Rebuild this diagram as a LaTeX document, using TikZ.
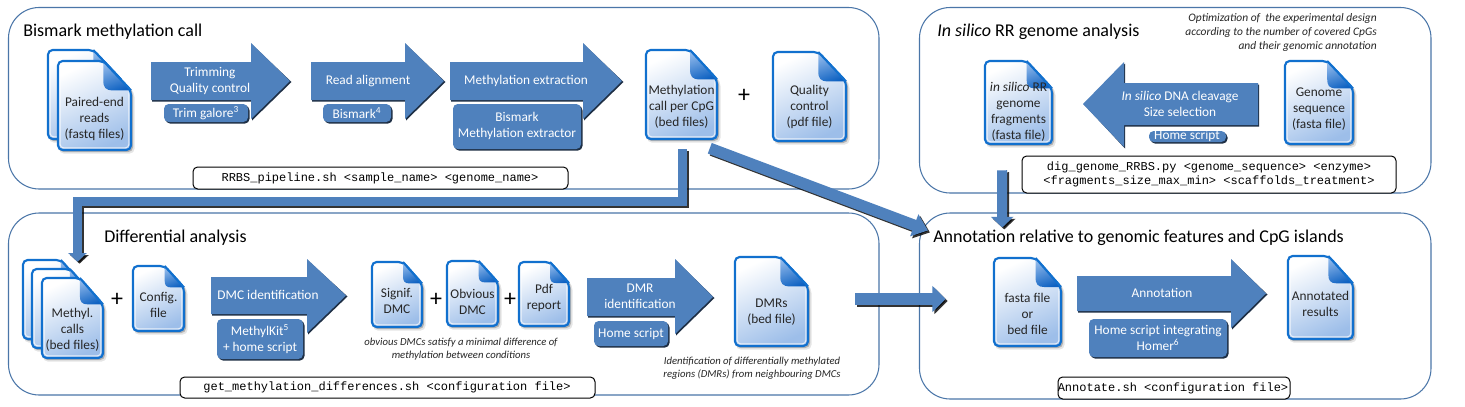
\documentclass[tikz,border=0pt]{standalone}
\usepackage{fontspec}
\setmainfont{Carlito}
\setmonofont{Liberation Mono}
\usetikzlibrary{arrows.meta}
\definecolor{barrow}{HTML}{4F81BD}
\definecolor{panelline}{HTML}{4A76A8}
\definecolor{docline}{HTML}{1170CE}
\definecolor{docend}{HTML}{9DBEE9}
\definecolor{foldtop}{HTML}{8FB8EA}
\definecolor{foldend}{HTML}{0F62C2}
\definecolor{shadowc}{HTML}{1E2F45}
\tikzset{
  x=0.75pt,y=-0.75pt,
  panelbox/.style={draw=panelline,line width=0.8pt,fill=white,rounded corners=23pt,inner sep=0pt},
  codebox/.style={draw=black,line width=0.75pt,fill=white,rounded corners=3.5pt,inner sep=0pt,align=center,font=\ttfamily\fontsize{9}{10.6}\selectfont},
  tagbox/.style={fill=barrow,rounded corners=3.5pt,inner sep=0pt,align=center,text=white,font=\fontsize{10}{12}\selectfont},
  whitelabel/.style={text=white,align=center,inner sep=0pt,font=\fontsize{10}{12}\selectfont},
  doclabel/.style={text=black!85,align=center,inner sep=0pt,font=\fontsize{10}{12}\selectfont},
  title/.style={anchor=west,inner sep=0pt,font=\fontsize{13.5}{16}\selectfont},
  note/.style={inner sep=0pt,font=\itshape\fontsize{8}{9.8}\selectfont,text=black!85},
  plus/.style={inner sep=0pt,font=\fontsize{18}{18}\selectfont},
  conn/.style={draw=barrow,line join=miter},
  connshadow/.style={draw=black,opacity=0.8,line join=miter,transform canvas={xshift=1.5pt,yshift=-1.5pt}},
}
% name, x1,y1,x2,y2
\newcommand{\panelnode}[5]{\node[panelbox,minimum width={(#4-#2)*0.75pt},minimum height={(#5-#3)*0.75pt}] (#1) at ({(#2+#4)/2},{(#3+#5)/2}) {};}
% name, x1,y1,x2,y2, text, text cx, text cy
\newcommand{\codenode}[8]{\node[codebox,minimum width={(#4-#2)*0.75pt},minimum height={(#5-#3)*0.75pt}] (#1) at ({(#2+#4)/2},{(#3+#5)/2}) {};
  \node[inner sep=0pt,align=center,font=\ttfamily\fontsize{9}{10.6}\selectfont] (#1-t) at (#7,#8) {#6};}
% name, x1,y1,x2,y2, text, text cx, text cy
\newcommand{\tagnode}[8]{\fill[shadowc,rounded corners=3.5pt] (#2+1.5,#3+1.6) rectangle (#4+1.5,#5+1.6);
  \node[tagbox,minimum width={(#4-#2)*0.75pt},minimum height={(#5-#3)*0.75pt}] (#1) at ({(#2+#4)/2},{(#3+#5)/2}) {};
  \node[whitelabel] (#1-t) at (#7,#8) {#6};}
% x0, ytop, ybot, xhead, yhtop, yhbot, xtip
\newcommand{\blockarrow}[7]{\pgfmathsetmacro{\ymid}{(#2+#3)/2}
  \fill[shadowc] (#1+1,#2+1.5) -- (#4+1,#2+1.5) -- (#4+1,#5+1.5) -- (#7+1.5,\ymid+1) -- (#4+1,#6+1.5) -- (#4+1,#3+1.5) -- (#1+1,#3+1.5) -- cycle;
  \fill[barrow] (#1,#2) -- (#4,#2) -- (#4,#5) -- (#7,\ymid) -- (#4,#6) -- (#4,#3) -- (#1,#3) -- cycle;}
% name, x1,y1,x2,y2, text, text cy
\newcommand{\docnode}[7]{\pgfmathsetmacro{\fw}{0.38*(#4-#2)}\pgfmathsetmacro{\fh}{0.33*(#5-#3)}
  \pgfmathsetmacro{\xa}{#4-\fw}\pgfmathsetmacro{\yb}{#3+\fh}
  \fill[black,opacity=.10,rounded corners=3.5pt] (#2+1,#3+2) -- (\xa+2,#3+2) -- (#4+3.5,\yb+2) -- (#4+3.5,#5+3.5) -- (#2+1,#5+3.5) -- cycle;
  \fill[black,opacity=.22,rounded corners=3.5pt] (#2+1,#3+2) -- (\xa+1,#3+2) -- (#4+2,\yb+1) -- (#4+2,#5+2) -- (#2+1,#5+2) -- cycle;
  \path[draw=docline,line width=1.6pt,top color=white,bottom color=docend,shading angle=25,rounded corners=3.5pt]
    (#2,#3) -- (\xa,#3) -- (#4,\yb) -- (#4,#5) -- (#2,#5) -- cycle;
  \draw[white,opacity=.75,line width=0.7pt,rounded corners=2.5pt] (#4-2.2,\yb+2) -- (#4-2.2,#5-2.2) -- (#2+2.2,#5-2.2) -- (#2+2.2,#3+4);
  \path[top color=foldtop,bottom color=foldend,shading angle=20] (\xa,#3) -- (#4,\yb) -- (\xa+0.35*\fw,\yb) .. controls (\xa+0.08*\fw,\yb) and (\xa,\yb-0.1*\fh) .. (\xa,\yb-0.35*\fh) -- cycle;
  \draw[docline,line width=1.6pt,line join=round] (\xa,#3) -- (#4,\yb);
  \node[inner sep=0pt,minimum width={(#4-#2)*0.75pt},minimum height={(#5-#3)*0.75pt}] (#1) at ({(#2+#4)/2},{(#3+#5)/2}) {};
  \node[doclabel] (#1-t) at ({(#2+#4)/2},#7) {#6};}
\begin{document}
\begin{tikzpicture}
\useasboundingbox (0,0) rectangle (1465,407);
\fill[white] (0,0) rectangle (1465,407);
% panels
\panelnode{pBis}{8.5}{7.5}{879}{189}
\panelnode{pSil}{919.5}{7.5}{1431}{193}
\panelnode{pDif}{8.5}{213}{879}{395}
\panelnode{pAnn}{919.5}{213}{1431}{399}
% titles
\node[title] (tBis) at (23,32) {Bismark methylation call};
\node[title] (tSil) at (937,32) {\textit{In silico} RR genome analysis};
\node[title] (tDif) at (104,238) {Differential analysis};
\node[title] (tAnn) at (933,238) {Annotation relative to genomic features and CpG islands};
% command boxes
\codenode{cBis}{193}{167}{568}{189}{RRBS\_pipeline.sh <sample\_name> <genome\_name>}{380}{178}
\codenode{cSil}{1022}{156}{1396}{193}{dig\_genome\_RRBS.py <genome\_sequence> <enzyme>\\<fragments\_size\_max\_min> <scaffolds\_treatment>}{1209}{174.5}
\codenode{cDif}{180}{377}{595}{398}{get\_methylation\_differences.sh <configuration file>}{387}{387.5}
\codenode{cAnn}{1058}{377}{1290}{399}{Annotate.sh <configuration file>}{1173}{388}
% Bismark panel
\docnode{reads0}{48}{50}{121}{139}{}{100}
\docnode{reads}{58}{61}{131}{150}{Paired-end\\reads\\(fastq files)}{119}
\blockarrow{151}{62}{100}{251}{43}{119}{290}
\node[whitelabel] (aTrim) at (210,81) {Trimming\\Quality control};
\tagnode{gTrim}{164}{104}{248}{122}{Trim galore\textsuperscript{3}}{206}{113}
\blockarrow{311}{62}{100}{405}{43}{119}{444}
\node[whitelabel] (aRead) at (368,81) {Read alignment};
\tagnode{gBis}{323}{104}{391}{122}{Bismark\textsuperscript{4}}{357}{113}
\blockarrow{450}{62}{100}{583}{43}{119}{622}
\node[whitelabel] (aExt) at (526,81) {Methylation extraction};
\tagnode{gExt}{453}{104}{581}{149}{Bismark\\Methylation extractor}{517}{126}
\docnode{mcall}{646}{50}{717}{139}{Methylation\\call per CpG\\(bed files)}{107}
\node[plus] (pl1) at (744,96) {+};
\docnode{qc}{773}{52}{846}{141}{Quality\\control\\(pdf file)}{107}
% In silico panel
\node[note,align=right,anchor=east,font=\itshape\fontsize{8.6}{10.8}\selectfont] (nOpt) at (1377,32.5) {Optimization of \ the experimental design\\according to the number of covered CpGs\\and their genomic annotation};
\docnode{frag}{985}{61}{1052}{144}{\textit{in silico} RR\\genome\\fragments\\(fasta file)}{112}
\blockarrow{1258}{83}{125}{1124}{62}{147}{1083}
\node[whitelabel] (aCut) at (1180,103.5) {\textit{In silico} DNA cleavage\\Size selection};
\tagnode{gCut}{1149}{131}{1226}{142}{Home script}{1187}{136}
\docnode{genome}{1285}{61}{1353}{144}{Genome\\sequence\\(fasta file)}{109}
% Differential panel
\docnode{calls0}{23}{260}{84}{339}{}{300}
\docnode{calls1}{32}{269}{93}{348}{}{300}
\docnode{calls}{42}{278}{103}{358}{Methyl.\\calls\\(bed files)}{330}
\node[plus] (pl2) at (117,300) {+};
\docnode{config}{133}{266}{184}{331}{Config.\\file}{305}
\blockarrow{211}{277}{314}{307}{259}{333}{346}
\node[whitelabel] (aDmc) at (268,295) {DMC identification};
\tagnode{gDmc}{217}{319}{303}{359}{MethylKit\textsuperscript{5}\\+ home script}{260}{339}
\docnode{signif}{372}{262}{422}{327}{Signif.\\DMC}{301}
\node[plus] (pl3) at (436,300) {+};
\docnode{obvious}{447}{261}{498}{326}{Obvious\\DMC}{302}
\node[plus] (pl4) at (510,300) {+};
\docnode{report}{519}{262}{569}{326}{Pdf\\report}{298}
\node[note,align=center] (nObv) at (461,349.5) {obvious DMCs satisfy a minimal difference of\\methylation between conditions};
\blockarrow{587}{278}{316}{675}{259}{334}{713}
\node[whitelabel] (aDmr) at (640,296) {DMR\\identification};
\tagnode{gDmr}{594}{321}{668}{346}{Home script}{631}{334}
\docnode{dmrs}{735}{257}{808}{346}{DMRs\\(bed file)}{312}
\node[note,align=center] (nDmr) at (752,368.5) {Identification of differentially methylated\\regions (DMRs) from neighbouring DMCs};
% Annotation panel
\docnode{fasta}{994}{258}{1061}{346}{fasta file\\or\\bed file}{314}
\blockarrow{1077}{276}{311}{1231}{259}{328}{1266}
\node[whitelabel] (aAnn) at (1162,293) {Annotation};
\tagnode{gAnn}{1089}{319}{1227}{357}{Home script integrating\\Homer\textsuperscript{6}}{1158}{338}
\docnode{annot}{1288}{256}{1353}{339}{Annotated\\results}{304}
% connectors
\coordinate (bendA) at (400,201.5);
\newcommand{\bentpath}{([shift={(1,10)}]mcall.south) |- (bendA) -| ([shift={(5,-16)}]calls.north)}
\newcommand{\diagpath}{([shift={(-7.5,9)}]mcall.south east) -- ([shift={(9,18)}]pAnn.north west)}
\newcommand{\vertpath}{([shift={(-16.5,26)}]frag.south) -- ([shift={(-173,15)}]pAnn.north)}
\newcommand{\horzpath}{([shift={(47,-2.5)}]dmrs.east) -- ([shift={(-48,-3)}]fasta.west)}
\tikzset{
  bentline/.style={line width=6.75pt,-{Triangle[length=6.5pt,width=13.5pt]}},
  diagline/.style={line width=8.5pt,-{Triangle[length=11pt,width=17pt]}},
  vertline/.style={line width=7.5pt,-{Triangle[length=8pt,width=16.5pt]}},
  horzline/.style={line width=9pt,-{Triangle[length=10pt,width=19pt]}},
}
\draw[connshadow,bentline] \bentpath;
\draw[conn,bentline] \bentpath;
\draw[connshadow,diagline] \diagpath;
\draw[conn,diagline] \diagpath;
\draw[connshadow,vertline] \vertpath;
\draw[conn,vertline] \vertpath;
\draw[connshadow,horzline] \horzpath;
\draw[conn,horzline] \horzpath;
\end{tikzpicture}
\end{document}
